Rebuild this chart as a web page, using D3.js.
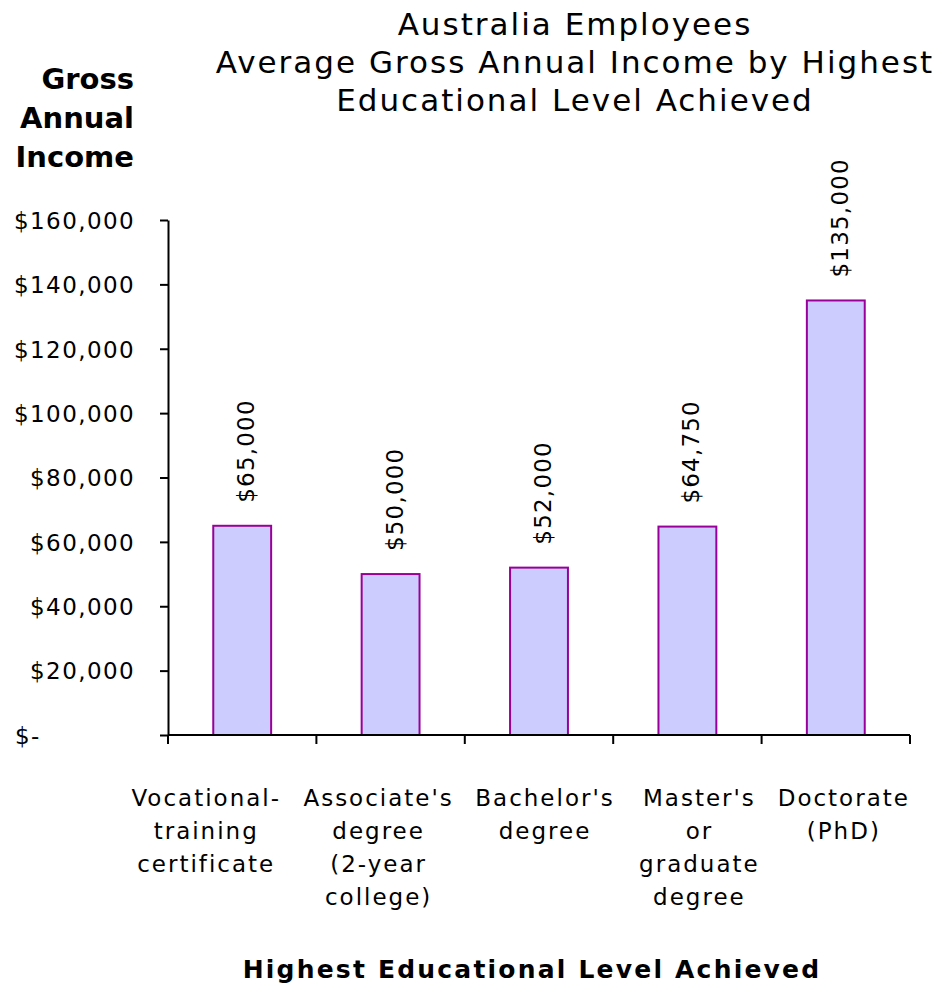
<!DOCTYPE html>
<html>
<head>
<meta charset="utf-8">
<script src="https://cdn.jsdelivr.net/npm/d3@7"></script>
<style>
  html, body { margin: 0; padding: 0; background: #fff; }
  svg { display: block; }
  text { font-family: "DejaVu Sans", Verdana, sans-serif; fill: #000; }
</style>
</head>
<body>
<svg id="chart" width="943" height="989"></svg>
<script>
// Education levels and average gross annual income (AUD)
const categories = [
  ["Vocational-", "training", "certificate"],
  ["Associate's", "degree", "(2-year", "college)"],
  ["Bachelor's", "degree"],
  ["Master's", "or", "graduate", "degree"],
  ["Doctorate", "(PhD)"]
];
const incomes = [65000, 50000, 52000, 64750, 135000];
const tickValues = [0, 20000, 40000, 60000, 80000, 100000, 120000, 140000, 160000];
const titleLines = ["Australia Employees", "Average Gross Annual Income by Highest", "Educational Level Achieved"];
const yTitleLines = ["Gross", "Annual", "Income"];
const xTitle = "Highest Educational Level Achieved";

// Layout
const plot = { left: 168, right: 910, top: 220, bottom: 735 };
// horizontal nudge of each wrapped category label block
const labelNudge = [-36, -12, 6, 12, 8];

const svg = d3.select("#chart");

const xBand = d3.scaleBand()
  .domain(d3.range(categories.length))
  .range([plot.left, plot.right]);

const x = d3.scaleBand()
  .domain(d3.range(categories.length))
  .range([plot.left, plot.right])
  .paddingInner(0.61)
  .paddingOuter(0.305);

const y = d3.scaleLinear().domain([0, 160000]).range([plot.bottom, plot.top]);

const money = d3.format(",");
const fmt = v => v === 0 ? "$-" : "$" + money(v);

// Title
svg.append("g").selectAll("text").data(titleLines).join("text")
  .attr("x", 575).attr("y", (d, i) => 35 + i * 38)
  .attr("text-anchor", "middle")
  .style("font-size", "31px")
  .style("letter-spacing", "2px")
  .text(d => d);

// Y axis title
svg.append("g").selectAll("text").data(yTitleLines).join("text")
  .attr("x", 134).attr("y", (d, i) => 89 + i * 39)
  .attr("text-anchor", "end")
  .style("font-size", "29px")
  .style("font-weight", "bold")
  .text(d => d);

// Bars
svg.append("g").selectAll("rect").data(incomes).join("rect")
  .attr("x", (d, i) => x(i))
  .attr("y", d => y(d))
  .attr("width", x.bandwidth())
  .attr("height", d => plot.bottom - y(d))
  .attr("fill", "#ccccff")
  .attr("stroke", "#990099")
  .attr("stroke-width", 2);

// Value labels, rotated
svg.append("g").selectAll("text").data(incomes).join("text")
  .attr("transform", (d, i) => `translate(${x(i) + x.bandwidth() / 2 + 12},${y(d) - 23}) rotate(-90)`)
  .style("font-size", "23px")
  .style("letter-spacing", "1.2px")
  .text(d => fmt(d));

// Y axis
const yAxis = svg.append("g")
  .attr("transform", `translate(${plot.left},0)`)
  .call(d3.axisLeft(y).tickValues(tickValues).tickSize(8).tickSizeOuter(0).tickFormat(fmt));
yAxis.select(".domain").attr("stroke", "#000").attr("stroke-width", 2);
yAxis.selectAll(".tick line").attr("stroke", "#000").attr("stroke-width", 2);
yAxis.selectAll(".tick text")
  .attr("x", d => d === 0 ? -153 : -33)
  .attr("dy", "0.36em")
  .attr("text-anchor", d => d === 0 ? "start" : "end")
  .style("font-family", "'DejaVu Sans', Verdana, sans-serif")
  .style("font-size", "23px")
  .style("letter-spacing", "1.4px");

// X axis with tick marks at band boundaries
const xAxis = svg.append("g").attr("transform", `translate(0,${plot.bottom})`);
xAxis.append("line")
  .attr("x1", plot.left).attr("x2", plot.right)
  .attr("stroke", "#000").attr("stroke-width", 2);
const boundaries = d3.range(categories.length + 1).map(i => i < categories.length ? xBand(i) : plot.right);
xAxis.selectAll("line.tk").data(boundaries).join("line")
  .attr("class", "tk")
  .attr("x1", d => d).attr("x2", d => d)
  .attr("y1", 0).attr("y2", 9)
  .attr("stroke", "#000").attr("stroke-width", 2);

// Category labels
const catG = svg.append("g").selectAll("g").data(categories).join("g")
  .attr("transform", (d, i) => `translate(${xBand(i) + xBand.bandwidth() / 2 + labelNudge[i]},0)`);
catG.selectAll("text").data(d => d).join("text")
  .attr("x", 0).attr("y", (d, i) => 806 + i * 33)
  .attr("text-anchor", "middle")
  .style("font-size", "23px")
  .style("letter-spacing", "2px")
  .text(d => d);

// X axis title
svg.append("text")
  .attr("x", 532).attr("y", 978)
  .attr("text-anchor", "middle")
  .style("font-size", "25px")
  .style("font-weight", "bold")
  .style("letter-spacing", "2.2px")
  .text(xTitle);
</script>
</body>
</html>
